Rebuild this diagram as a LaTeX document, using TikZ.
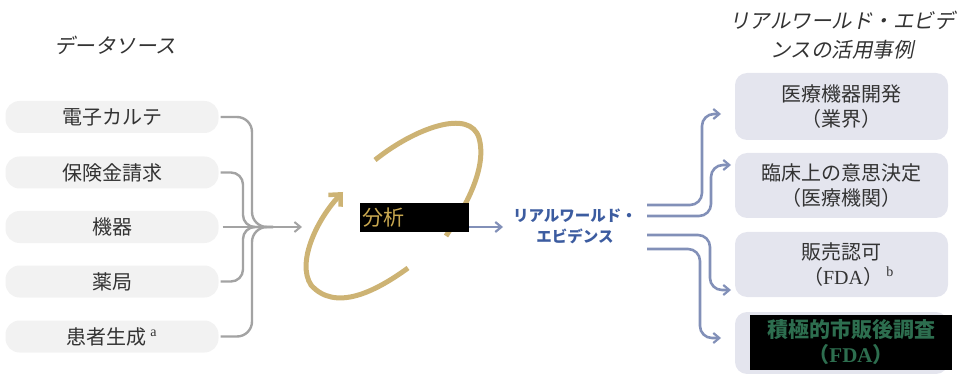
\documentclass[tikz,border=0pt]{standalone}
\usepackage{fontspec}
\setmainfont{Liberation Serif}
\newfontfamily\jp{Noto Sans CJK JP}
\newfontfamily\jpit[FakeSlant=0.2]{Noto Sans CJK JP}
\usetikzlibrary{arrows.meta}
\definecolor{lgray}{HTML}{F2F2F2}
\definecolor{rfill}{HTML}{E4E5EE}
\definecolor{gline}{HTML}{A3A3A3}
\definecolor{goldc}{HTML}{CDB374}
\definecolor{goldtxt}{HTML}{C9A850}
\definecolor{bline}{HTML}{8290B8}
\definecolor{btxt}{HTML}{3C5CA0}
\definecolor{gtxt}{HTML}{2D6E4F}
\definecolor{txt}{HTML}{333333}
\begin{document}
\begin{tikzpicture}[x=1pt,y=-1pt,
  lbox/.style={fill=lgray, rounded corners=14pt, minimum width=213pt, minimum height=32pt, inner sep=0pt, text=txt, font=\jp\fontsize{20}{24}\selectfont},
  rbox/.style={fill=rfill, rounded corners=12pt, minimum width=213pt, inner sep=0pt, text=txt, align=center, font=\jp\fontsize{20}{25}\selectfont},
  ttl/.style={text=txt, align=center, font=\jpit\fontsize{20.5}{29}\selectfont},
  gconn/.style={draw=gline, line width=2.4pt},
  garrow/.style={gconn, -{Straight Barb[length=6pt,width=10pt,line width=2pt]}},
  barrow/.style={draw=bline, line width=2.6pt, -{Straight Barb[length=6pt,width=10pt,line width=2.2pt]}},
  loop/.style={draw=goldc, line width=5pt}
]
\useasboundingbox (0,0) rectangle (961,374);

% titles
\node[ttl] (t_left) at (115,45) {データソース};
\node[ttl] (t_right) at (842,35) {リアルワールド・エビデ\\ンスの活用事例};

% left data source boxes
\node[lbox] (s1) at (112,117) {電子カルテ};
\node[lbox] (s2) at (112,172.5) {保険金請求};
\node[lbox] (s3) at (112,227) {機器};
\node[lbox] (s4) at (112,281.5) {薬局};
\node[lbox] (s5) at (112,336.5) {患者生成\,\textsuperscript{\rmfamily a}};

% merge connectors
\coordinate (m) at (273,227);
\coordinate (ain) at (302,227);
\draw[gconn, rounded corners=15pt] ([xshift=2pt]s1.east) -| (252,227) -- (m);
\draw[gconn, rounded corners=12pt] ([xshift=2pt]s2.east) -| (243,227) -- (m);
\draw[gconn, rounded corners=12pt] ([xshift=2pt]s4.east) -| (243,227) -- (m);
\draw[gconn, rounded corners=15pt] ([xshift=2pt]s5.east) -| (252,227) -- (m);
\draw[garrow] ([xshift=4pt]s3.east) -- (ain);

% gold analysis loop
\draw[loop] (375,160) .. controls (415,128) and (470,108) .. (479,138)
            .. controls (488,170) and (462,212) .. (446,236);
\draw[loop, -{Straight Barb[length=9pt,width=17pt,line width=4.5pt]}]
      (408,268) .. controls (375,292) and (335,312) .. (311,285)
      .. controls (296,262) and (318,218) .. (343,192);

% analysis label (black box)
\node[fill=black, text=goldtxt, anchor=west, minimum height=29pt, text width=105pt, inner sep=2pt,
      font=\jp\fontsize{21}{24}\selectfont] (an) at (360,217.5) {分析};

% RWE
\coordinate (rwein) at (503,227);
\draw[barrow] (an.east |- rwein) -- (rwein);
\node[text=btxt, align=center, font=\jp\bfseries\fontsize{15.5}{21}\selectfont] (rwe) at (575,226.5) {リアルワールド・\\エビデンス};

% right boxes
\node[rbox, minimum height=67pt] (r1) at (841.5,106.5) {医療機器開発\\（業界）};
\node[rbox, minimum height=65pt] (r2) at (841.5,185.5) {臨床上の意思決定\\（医療機関）};
\node[rbox, minimum height=65pt] (r3) at (841.5,264.5) {販売認可\\\hspace*{14pt}（{\rmfamily FDA}）\,\textsuperscript{\rmfamily b}};
\node[rbox, minimum height=62pt] (r4) at (841.5,343) {};
\node[fill=black, text=gtxt, align=center, minimum width=202pt, minimum height=55pt, inner sep=0pt,
      font=\jp\bfseries\fontsize{21}{25}\selectfont] (r4t) at (851,342.5) {積極的市販後調査\\（{\rmfamily\bfseries FDA}）};

% branch arrows
\coordinate (o1) at (647,205);
\coordinate (o2) at (647,216);
\coordinate (o3) at (647,235);
\coordinate (o4) at (647,249);
\coordinate (e1) at (721,114);
\coordinate (e2) at (731,165);
\coordinate (e3) at (731,290);
\coordinate (e4) at (721,338);
\draw[barrow, rounded corners=12pt] (o1) -| (702,114) -- (e1);
\draw[barrow, rounded corners=12pt] (o2) -| (711,165) -- (e2);
\draw[barrow, rounded corners=12pt] (o3) -| (710,290) -- (e3);
\draw[barrow, rounded corners=12pt] (o4) -| (700,338) -- (e4);
\end{tikzpicture}
\end{document}
